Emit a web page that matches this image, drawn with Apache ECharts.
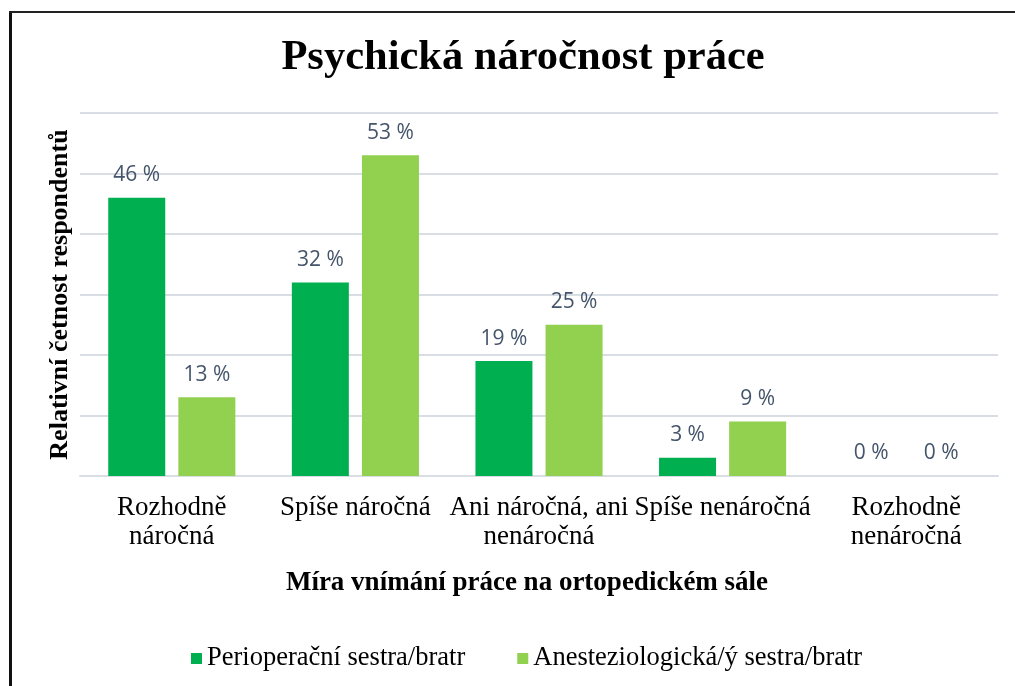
<!DOCTYPE html>
<html>
<head>
<meta charset="utf-8">
<script src="https://cdn.jsdelivr.net/npm/echarts@6/dist/echarts.min.js"></script>
<style>
html,body{margin:0;padding:0;background:#fff;}
#chart{width:1015px;height:686px;}
</style>
</head>
<body>
<div id="chart"></div>
<script>
const categories = ["Rozhodně\nnáročná", "Spíše náročná", "Ani náročná, ani\nnenáročná", "Spíše nenáročná", "Rozhodně\nnenáročná"];
const perioperacni = [46, 32, 19, 3, 0];
const anesteziologicka = [13, 53, 25, 9, 0];
const seriesNames = ["Perioperační sestra/bratr", "Anesteziologická/ý sestra/bratr"];
const titleText = "Psychická náročnost práce";
const xAxisName = "Míra vnímání práce na ortopedickém sále";
const yAxisName = "Relativní četnost respondentů";

const serif = "'Liberation Serif', 'Times New Roman', serif";
const labelStyle = {
  show: true,
  position: 'top',
  distance: 12,
  formatter: p => p.value + ' %',
  fontFamily: "'Open Sans', sans-serif",
  fontSize: 21,
  color: '#44546A'
};

const chart = echarts.init(document.getElementById('chart'), null, {renderer: 'canvas'});
chart.setOption({
  animation: false,
  backgroundColor: '#ffffff',
  title: {
    text: titleText,
    left: 518,
    top: 32,
    textAlign: 'center',
    textStyle: {fontFamily: serif, fontWeight: 'bold', fontSize: 42.5, color: '#000'}
  },
  legend: {
    left: 186,
    top: 640,
    itemWidth: 11,
    itemHeight: 11,
    itemGap: 52,
    icon: 'rect',
    textStyle: {fontFamily: serif, fontSize: 26.5, color: '#000'},
    data: seriesNames
  },
  grid: {left: 80, right: 17, top: 113, bottom: 210, containLabel: false},
  xAxis: {
    type: 'category',
    data: categories,
    axisLine: {show: true, lineStyle: {color: '#D9DEE5', width: 2}},
    axisTick: {show: false},
    axisLabel: {interval: 0, margin: 17, fontFamily: serif, fontSize: 27, lineHeight: 29, color: '#000'},
    name: xAxisName,
    nameLocation: 'middle',
    nameGap: 94,
    nameTextStyle: {fontFamily: serif, fontWeight: 'bold', fontSize: 27, color: '#000', padding: [0, 24, 0, 0]}
  },
  yAxis: {
    type: 'value',
    min: 0,
    max: 60,
    interval: 10,
    axisLabel: {show: false},
    axisLine: {show: false},
    axisTick: {show: false},
    splitLine: {lineStyle: {color: '#D9DEE5', width: 2}},
    name: yAxisName,
    nameLocation: 'middle',
    nameGap: 7,
    nameTextStyle: {fontFamily: serif, fontWeight: 'bold', fontSize: 26, color: '#000'}
  },
  series: [
    {name: seriesNames[0], type: 'bar', data: perioperacni, barWidth: 57, barGap: '23%', itemStyle: {color: '#00B050'}, label: labelStyle},
    {name: seriesNames[1], type: 'bar', data: anesteziologicka, barWidth: 57, itemStyle: {color: '#92D050'}, label: labelStyle}
  ],
  graphic: [
    {type: 'rect', shape: {x: 9, y: 11, width: 3, height: 675}, style: {fill: '#111'}, silent: true},
    {type: 'rect', shape: {x: 9, y: 11, width: 1006, height: 2}, style: {fill: '#222'}, silent: true}
  ]
});
</script>
</body>
</html>
